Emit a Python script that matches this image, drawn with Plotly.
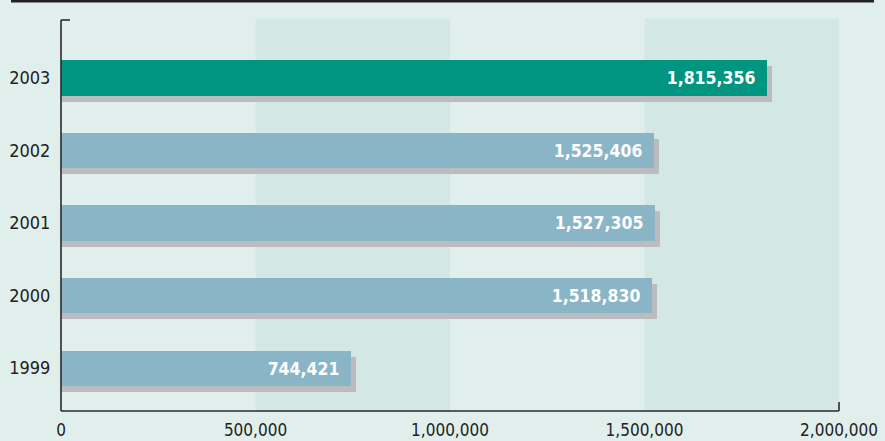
import plotly.graph_objects as go

years = ["1999", "2000", "2001", "2002", "2003"]
values = [744421, 1518830, 1527305, 1525406, 1815356]
bar_colors = ["#89b5c6", "#89b5c6", "#89b5c6", "#89b5c6", "#009580"]
x_tickvals = [0, 500000, 1000000, 1500000, 2000000]
x_ticktext = ["0", "500,000", "1,000,000", "1,500,000", "2,000,000"]
bands = [(500000, 1000000), (1500000, 2000000)]

W, H = 885, 441
L, R, T, B = 61, 46, 20, 30
plot_w = W - L - R
plot_h = H - T - B
xmax = 2000000
ymin, ymax = -0.593, 4.8
px_x = xmax / plot_w
px_y = (ymax - ymin) / plot_h

idx = list(range(len(years)))
labels = [f"{v:,}\u00a0\u2009" for v in values]
cond = "DejaVu Sans Condensed, Liberation Sans, sans-serif"

fig = go.Figure()
# shadows
fig.add_trace(go.Bar(
    x=[v + 5 * px_x for v in values], y=[i - 6 * px_y for i in idx], orientation="h",
    width=0.483, marker=dict(color="#bbbcc0", line=dict(width=0)),
    hoverinfo="skip", showlegend=False))
fig.add_trace(go.Bar(
    x=values, y=idx, orientation="h", width=0.483,
    marker=dict(color=bar_colors, line=dict(width=0)),
    text=labels, textposition="inside", insidetextanchor="end",
    textfont=dict(color="white", size=17.5, family=cond, weight="bold"),
    textangle=0, cliponaxis=False, showlegend=False))

shapes = []
for a, b in bands:
    shapes.append(dict(type="rect", xref="x", yref="paper", x0=a, x1=b, y0=0, y1=1 + 1.5 / plot_h,
                       fillcolor="#d3e7e4", line=dict(width=0), layer="below"))
axis_col = "#2a2a2a"
shapes.append(dict(type="line", xref="paper", yref="paper", x0=0, x1=0, y0=0, y1=1,
                   line=dict(color=axis_col, width=1.6)))
shapes.append(dict(type="line", xref="paper", yref="paper", x0=0, x1=9 / plot_w, y0=1, y1=1,
                   line=dict(color=axis_col, width=1.6)))
shapes.append(dict(type="line", xref="paper", yref="paper", x0=0, x1=1, y0=0, y1=0,
                   line=dict(color=axis_col, width=1.6)))
shapes.append(dict(type="line", xref="paper", yref="paper", x0=1, x1=1, y0=0, y1=9 / plot_h,
                   line=dict(color=axis_col, width=1.6)))
shapes.append(dict(type="rect", xref="paper", yref="paper",
                   x0=(11 - L) / plot_w, x1=(874 - L) / plot_w,
                   y0=(H - B - 2.6) / plot_h, y1=(H - B + 1) / plot_h,
                   fillcolor="#222222", line=dict(width=0)))

tick_font_y = dict(family=cond, size=18, color="#222222")
tick_font_x = dict(family=cond, size=17, color="#222222")
fig.update_layout(
    width=W, height=H, margin=dict(l=L, r=R, t=T, b=B, autoexpand=False),
    paper_bgcolor="#e0efec", plot_bgcolor="#e0efec",
    barmode="overlay", bargap=0, shapes=shapes,
    xaxis=dict(range=[0, xmax], tickvals=x_tickvals, ticktext=x_ticktext, showgrid=False,
               zeroline=False, showline=False, ticks="outside", ticklen=4, tickcolor="#e0efec",
               tickfont=tick_font_x, fixedrange=True, automargin=False),
    yaxis=dict(range=[ymin, ymax], tickvals=idx, ticktext=years, showgrid=False,
               zeroline=False, showline=False, ticks="outside", ticklen=6, tickcolor="#e0efec",
               tickfont=tick_font_y, fixedrange=True, automargin=False),
)
fig.write_html("out.html", config={"displayModeBar": False},
               post_script="document.body.style.margin='0';document.body.style.overflow='hidden';")
